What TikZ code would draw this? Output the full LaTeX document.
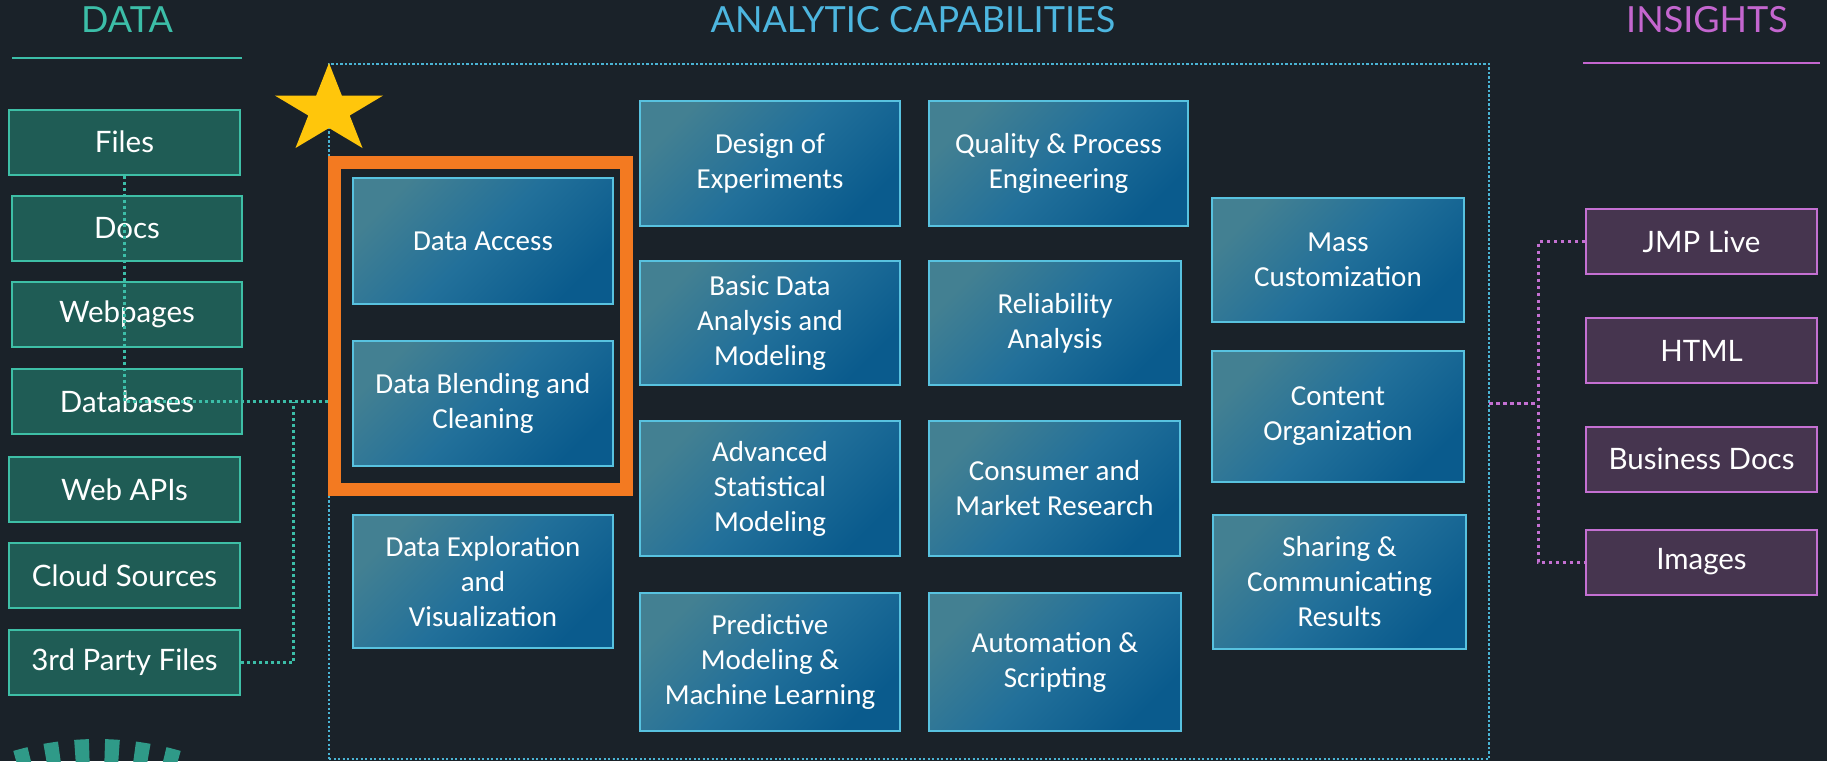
\documentclass[tikz,border=0pt]{standalone}
\usepackage{fontspec}
\setmainfont{Carlito}
\newfontfamily\latofont{Lato}
\usetikzlibrary{calc}
\definecolor{bg}{HTML}{1A2229}
\definecolor{tealT}{HTML}{3CBEA8}
\definecolor{tealF}{HTML}{1F5C55}
\definecolor{tealB}{HTML}{3EBFA6}
\definecolor{aB}{HTML}{58C2DF}
\definecolor{aUL}{HTML}{438092}
\definecolor{aMid}{HTML}{22709A}
\definecolor{aLR}{HTML}{0A5B8D}
\definecolor{blueT}{HTML}{4DB6DF}
\definecolor{frameC}{HTML}{4AB4D4}
\definecolor{purpF}{HTML}{46354F}
\definecolor{purpB}{HTML}{C470D2}
\definecolor{purpT}{HTML}{C466CF}
\definecolor{orangeC}{HTML}{F37A21}
\definecolor{starC}{HTML}{FFC60B}
\definecolor{logoC}{HTML}{2F9A88}
\begin{document}
\begin{tikzpicture}[x=1pt,y=-1pt,
  databox/.style={draw=tealB, fill=tealF, line width=2pt, minimum width=231pt, minimum height=65pt, inner sep=0pt, text=white, font=\latofont\fontsize{29.5}{36}\selectfont},
  insbox/.style={draw=purpB, fill=purpF, line width=2pt, minimum width=231pt, minimum height=65pt, inner sep=0pt, text=white, font=\latofont\fontsize{29.5}{36}\selectfont},
  abox/.style={draw=aB, line width=2pt, top color=aUL, bottom color=aLR, middle color=aMid, shading angle=45, inner sep=0pt, text=white, align=center, font=\fontsize{29}{35}\selectfont},
  header/.style={inner sep=0pt, font=\latofont\fontsize{36}{42}\selectfont},
  tealdot/.style={draw=tealT, line width=3pt, dash pattern=on 3pt off 3pt},
  purpdot/.style={draw=purpB, line width=3pt, dash pattern=on 3.5pt off 3.5pt},
  framedot/.style={draw=frameC, line width=2.5pt, dash pattern=on 2.2pt off 2.3pt}
]
\useasboundingbox (0,0) rectangle (1827,761);
\fill[bg] (0,0) rectangle (1827,761);

% headers
\node[header, text=tealT] (hdata) at (127,20) {DATA};
\node[header, text=blueT] (hanal) at (913,20) {ANALYTIC CAPABILITIES};
\node[header, text=purpT] (hins) at (1707,20) {INSIGHTS};
\draw[tealT, line width=2pt] (12,58) -- (242,58);
\draw[purpT, line width=2pt] (1583,63) -- (1820,63);

% analytic frame
\node[framedot, minimum width=1160pt, minimum height=695pt, inner sep=0pt] (frame) at (909,411.5) {};

% star
\fill[starC] (329,63) -- (341.8,95.5) -- (383.2,95.5) -- (349.7,115.5) -- (362.5,148)
  -- (329,128) -- (295.5,148) -- (308.3,115.5) -- (274.8,95.5) -- (316.2,95.5) -- cycle;

% data boxes
\node[databox] (files) at (124.5,142) {Files};
\node[databox, minimum width=230pt] (docs) at (127,228.5) {Docs};
\node[databox, minimum width=230pt] (web) at (127,314.5) {Webpages};
\node[databox, minimum width=230pt] (db) at (127,401.5) {Databases};
\node[databox] (apis) at (124.5,489.5) {Web APIs};
\node[databox] (cloud) at (124.5,575.5) {Cloud Sources};
\node[databox] (tp) at (124.5,662.5) {3rd Party Files};

% orange highlight
\node[draw=orangeC, line width=13pt, minimum width=292pt, minimum height=327pt, inner sep=0pt] (hl) at (480.5,326) {};

% teal connectors
\coordinate (j) at (293,401.5);
\draw[tealdot] (files.south) -- (files.south |- db.center) -- (db.center -| hl.west);
\draw[tealdot] (tp.east) -| (j);

% analytic boxes
\node[abox, minimum width=260pt, minimum height=126pt] (acc) at (483,241) {Data Access};
\node[abox, minimum width=260pt, minimum height=125pt] (blend) at (483,403.5) {Data Blending and\\Cleaning};
\node[abox, minimum width=260pt, minimum height=133pt] (expl) at (483,581.5) {Data Exploration\\and\\Visualization};
\node[abox, minimum width=260pt, minimum height=125pt] (doe) at (770,163.5) {Design of\\Experiments};
\node[abox, minimum width=260pt, minimum height=124pt] (basic) at (770,323) {Basic Data\\Analysis and\\Modeling};
\node[abox, minimum width=260pt, minimum height=135pt] (adv) at (770,488.5) {Advanced\\Statistical\\Modeling};
\node[abox, minimum width=260pt, minimum height=138pt] (pred) at (770,662) {Predictive\\Modeling \&\\Machine Learning};
\node[abox, minimum width=259pt, minimum height=125pt] (qual) at (1058.5,163.5) {Quality \& Process\\Engineering};
\node[abox, minimum width=252pt, minimum height=124pt] (rel) at (1055,323) {Reliability\\Analysis};
\node[abox, minimum width=251pt, minimum height=135pt] (cons) at (1054.5,488.5) {Consumer and\\Market Research};
\node[abox, minimum width=252pt, minimum height=138pt] (auto) at (1055,662) {Automation \&\\Scripting};
\node[abox, minimum width=252pt, minimum height=124pt] (mass) at (1338,260) {Mass\\Customization};
\node[abox, minimum width=252pt, minimum height=131pt] (cont) at (1338,416.5) {Content\\Organization};
\node[abox, minimum width=253pt, minimum height=134pt] (share) at (1339.5,582) {Sharing \&\\Communicating\\Results};

% insight boxes
\node[insbox] (jmp) at (1701.5,241.5) {JMP Live};
\node[insbox] (html) at (1701.5,350.5) {HTML};
\node[insbox] (bdoc) at (1701.5,459) {Business Docs};
\node[insbox] (img) at (1701.5,562) {Images};

% purple connectors
\coordinate (fo) at (1489,403);
\coordinate (pj) at (1538,403);
\draw[purpdot] (fo) -- (pj);
\draw[purpdot] (jmp.west) -- (jmp.west -| pj) -- (img.west -| pj) -- (img.west);

% partial logo
\begin{scope}
\clip (0,0) rectangle (1827,761);
\foreach \a in {-14.8,-8.88,-2.96,2.96,8.88,14.8} {
  \draw[logoC, line width=40pt] (97,1039) ++(270+\a-1.43:280) arc[start angle=270+\a-1.43, end angle=270+\a+1.43, radius=280];
}
\end{scope}
\end{tikzpicture}
\end{document}
